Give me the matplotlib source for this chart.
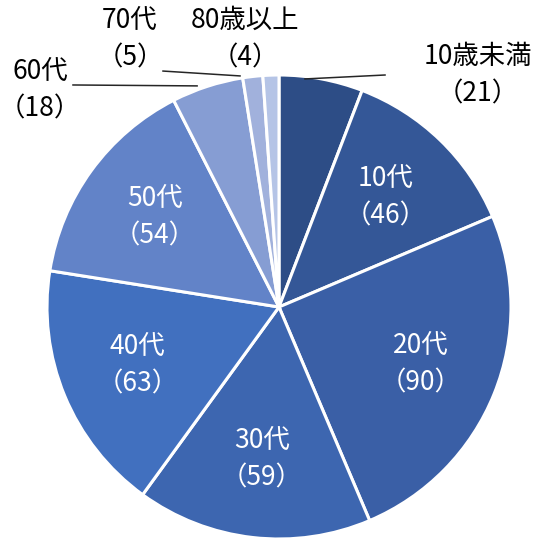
import numpy as np
import matplotlib
matplotlib.use("Agg")
import matplotlib.pyplot as plt

plt.rcParams['font.family'] = ['Noto Sans CJK JP', 'DejaVu Sans']

labels = ["10歳未満", "10代", "20代", "30代", "40代", "50代", "60代", "70代", "80歳以上"]
counts = [21, 46, 90, 59, 63, 54, 18, 5, 4]
colors = ["#2d4d86", "#345797", "#3a5fa6", "#3d66b0", "#4170bf",
          "#6283c8", "#869dd3", "#a1b1dc", "#b5c4e6"]

# labels drawn inside the wedges (white), the rest go outside
inside = ["10代", "20代", "30代", "40代", "50代"]
outside_pos = {
    "10歳未満": (0.858, 1.0),
    "60代": (-1.03, 0.935),
    "70代": (-0.642, 1.155),
    "80歳以上": (-0.147, 1.155),
}
leaders = {
    "10歳未満": ((0.112, 0.983), (0.457, 1.0)),
    "60代": ((-0.353, 0.953), (-0.888, 0.957)),
    "70代": ((-0.168, 0.996), (-0.5, 1.017)),
}

fig = plt.figure(figsize=(5.5, 5.39), dpi=100)
cx, cy, r = 279, 307, 232
ax = fig.add_axes([(cx - r) / 550, (539 - cy - r) / 539, 2 * r / 550, 2 * r / 539])

wedges, _ = ax.pie(counts, colors=colors, startangle=90, counterclock=False,
                   radius=1.0, wedgeprops=dict(edgecolor="white", linewidth=2.2))
ax.set_xlim(-1, 1)
ax.set_ylim(-1, 1)
ax.set_aspect("equal")
ax.axis("off")

fs = 19
for w, lab, n in zip(wedges, labels, counts):
    txt = f"{lab}\n（{n}）"
    if lab in inside:
        ang = np.deg2rad((w.theta1 + w.theta2) / 2)
        x, y = 0.66 * np.cos(ang), 0.66 * np.sin(ang)
        ax.text(x, y, txt, color="white", fontsize=fs, ha="center", va="center",
                linespacing=1.5)
    else:
        x, y = outside_pos[lab]
        ax.text(x, y, txt, color="black", fontsize=fs, ha="center", va="center",
                linespacing=1.5, clip_on=False)
        if lab in leaders:
            (x0, y0), (x1, y1) = leaders[lab]
            ax.plot([x0, x1], [y0, y1], color="#262626", lw=1.1, clip_on=False)

fig.savefig("out.png", dpi=100)
